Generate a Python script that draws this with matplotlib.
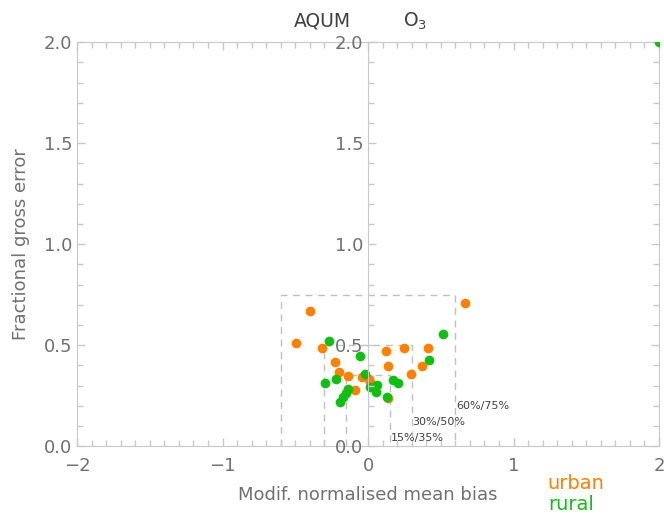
import matplotlib.pyplot as plt
from matplotlib.ticker import MultipleLocator

# modified normalised mean bias / fractional gross error per site
urban_x = [-0.495, -0.397, -0.313, -0.228, -0.199, -0.137, -0.089, -0.041, 0.009, 0.014,
           0.123, 0.139, 0.139, 0.247, 0.292, 0.372, 0.411, 0.669]
urban_y = [0.513, 0.670, 0.487, 0.417, 0.366, 0.348, 0.276, 0.343, 0.332, 0.318,
           0.469, 0.398, 0.236, 0.485, 0.356, 0.396, 0.485, 0.711]
rural_x = [-0.269, -0.295, -0.221, -0.194, -0.169, -0.151, -0.137, -0.055, -0.021, 0.014,
           0.055, 0.064, 0.128, 0.169, 0.208, 0.420, 0.512, 2.0]
rural_y = [0.520, 0.313, 0.330, 0.218, 0.244, 0.261, 0.281, 0.446, 0.355, 0.291,
           0.269, 0.302, 0.244, 0.328, 0.313, 0.426, 0.553, 2.0]

# performance criteria boxes (bias limit, error limit)
box_bias = [0.6, 0.3, 0.15]
box_err = [0.75, 0.5, 0.35]
box_labels = ['60%/75%', '30%/50%', '15%/35%']
label_y = [0.20, 0.12, 0.038]

orange = '#ff8000'
green = '#10c010'
axcol = '#c8c8c8'
txtcol = '#707070'
rect = [0.116, 0.142, 0.8765, 0.777]

fig = plt.figure(figsize=(6.64, 5.2), dpi=100)
ax = fig.add_axes(rect)

for bx, by in zip(box_bias, box_err):
    ax.plot([-bx, -bx, bx, bx], [0, by, by, 0], color='#c0c0c0', lw=1.0,
            ls=(0, (5, 4)), zorder=1)
for bx, ly, lab in zip(box_bias, label_y, box_labels):
    ax.text(bx + 0.005, ly, lab, fontsize=8, color='#404040', va='center', ha='left')

ax.plot(urban_x, urban_y, 'o', color=orange, ms=7, mec='none', zorder=3)
ax.plot(rural_x, rural_y, 'o', color=green, ms=7, mec='none', zorder=3)

ax.set_xlim(-2, 2)
ax.set_ylim(0, 2)
ax.xaxis.set_major_locator(MultipleLocator(1))
ax.xaxis.set_minor_locator(MultipleLocator(0.1))
ax.yaxis.set_major_locator(MultipleLocator(0.5))
ax.yaxis.set_minor_locator(MultipleLocator(0.1))
ax.yaxis.set_major_formatter('{x:.1f}')
ax.tick_params(which='both', direction='in', top=True, right=True, colors=axcol,
               labelcolor=txtcol, labelsize=13, width=1)
ax.tick_params(which='major', length=6)
ax.tick_params(which='minor', length=4)
ax.tick_params(axis='x', pad=8)
for sp in ax.spines.values():
    sp.set_color(axcol)

# second y axis drawn through x = 0
mid = fig.add_axes(rect, sharey=ax)
mid.patch.set_visible(False)
mid.xaxis.set_visible(False)
for name in ['top', 'right', 'bottom']:
    mid.spines[name].set_visible(False)
mid.spines['left'].set_position(('axes', 0.5))
mid.spines['left'].set_color(axcol)
mid.tick_params(axis='y', which='both', direction='in', color=axcol, labelcolor=txtcol,
                labelsize=13, width=1)
mid.tick_params(axis='y', which='major', length=6)
mid.tick_params(axis='y', which='minor', length=4)

ax.set_xlabel('Modif. normalised mean bias', fontsize=13, color=txtcol, labelpad=8)
ax.set_ylabel('Fractional gross error', fontsize=13, color=txtcol, labelpad=10)
fig.text(0.485, 0.96, 'AQUM', fontsize=13.5, color='#404040', ha='center', va='center')
fig.text(0.625, 0.958, 'O$_3$', fontsize=13.5, color='#404040', ha='center', va='center')

fig.text(0.825, 0.07, 'urban', fontsize=14, color=orange, ha='left', va='center')
fig.text(0.825, 0.03, 'rural', fontsize=14, color=green, ha='left', va='center')

fig.savefig('out.png', dpi=100)
